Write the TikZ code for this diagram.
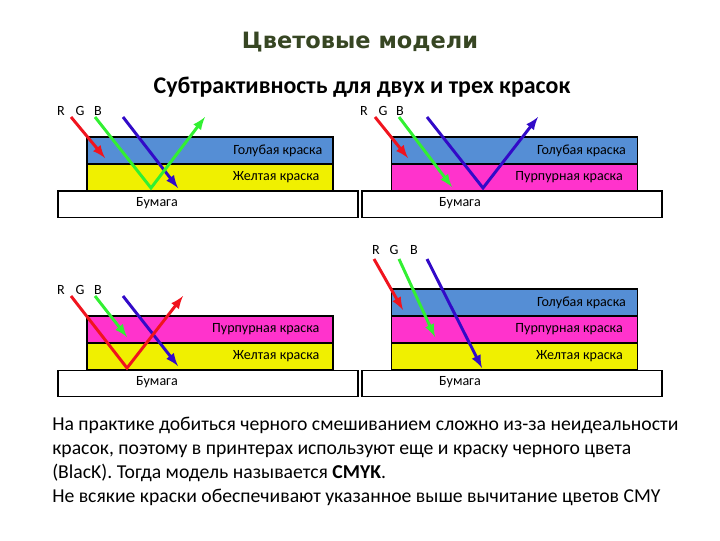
\documentclass[tikz,border=0pt]{standalone}
\usepackage{fontspec}
\setmainfont{Carlito}
\newfontfamily\titlefont{DejaVu Sans}
\usepackage{tikz}
\usetikzlibrary{positioning}
\definecolor{Layer-C}{RGB}{85,142,213}
\definecolor{Layer-M}{RGB}{255,51,204}
\definecolor{Layer-Y}{RGB}{240,240,0}
\definecolor{Ray-R}{RGB}{240,20,30}
\definecolor{Ray-G}{RGB}{50,240,50}
\definecolor{Ray-B}{RGB}{50,10,200}
\definecolor{Head}{RGB}{55,70,35}

\begin{document}
\begin{tikzpicture}[x=0.025cm, y=-0.025cm]
      \tikzset{ cyn/.style ={draw=black, fill=Layer-C, line width=1pt, minimum width=6.15cm, minimum height=0.675cm, inner sep=0pt} }
      \tikzset{ mag/.style ={draw=black, fill=Layer-M, line width=1pt, minimum width=6.15cm, minimum height=0.675cm, inner sep=0pt} }
      \tikzset{ yel/.style ={draw=black, fill=Layer-Y, line width=1pt, minimum width=6.15cm, minimum height=0.675cm, inner sep=0pt} }
      \tikzset{ pap/.style ={draw=black, fill=white,   line width=1pt, minimum width=7.50cm, minimum height=0.660cm, inner sep=0pt} }
      \tikzset{ lbl/.style ={text=black, inner sep=0pt, font=\fontsize{10}{12}\selectfont} }
      \tikzset{ rayR/.style={->,>=latex, line width=2.1pt, draw=Ray-R} }
      \tikzset{ rayG/.style={->,>=latex, line width=2.1pt, draw=Ray-G} }
      \tikzset{ rayB/.style={->,>=latex, line width=2.1pt, draw=Ray-B} }

      \useasboundingbox (0,0) rectangle (720,540);

      \node[text=Head, font=\titlefont\bfseries\fontsize{16}{19}\selectfont] (title) at (360,42) {Цветовые модели};
      \node[font=\bfseries\fontsize{17}{20}\selectfont] (subtitle) at (362,87) {Субтрактивность для двух и трех красок};

      % two layers: cyan + yellow
      \node[cyn] (p1_c) at (210,150.5) {};
      \node[yel] (p1_y) at (210,177.5) {};
      \node[pap] (p1_p) at (208,204.0) {};
      \node[lbl, anchor=east] at ([xshift=-0.28cm]p1_c.east) {Голубая краска};
      \node[lbl, anchor=east] at ([xshift=-0.35cm]p1_y.east) {Желтая краска};
      \node[lbl] at (157,203) {Бумага};
      \node[lbl] (p1_R) at ( 61,111) {R};
      \node[lbl] (p1_G) at ( 80,111) {G};
      \node[lbl] (p1_B) at ( 98,111) {B};

      \coordinate (p1_r0) at ( 71,117);
      \coordinate (p1_r1) at (105,158);
      \coordinate (p1_g0) at ( 95,117);
      \coordinate (p1_g1) at (151,188);
      \coordinate (p1_g2) at (205,117);
      \coordinate (p1_b0) at (123,117);
      \coordinate (p1_b1) at (178,188);

      \draw[rayR] (p1_r0) -- (p1_r1);
      \draw[rayB] (p1_b0) -- (p1_b1);
      \draw[rayG] (p1_g0) -- (p1_g1) -- (p1_g2);

      % two layers: cyan + magenta
      \node[cyn] (p2_c) at (514.5,150.5) {};
      \node[mag] (p2_m) at (514.5,177.5) {};
      \node[pap] (p2_p) at (512,204.0) {};
      \node[lbl, anchor=east] at ([xshift=-0.30cm]p2_c.east) {Голубая краска};
      \node[lbl, anchor=east] at ([xshift=-0.38cm]p2_m.east) {Пурпурная краска};
      \node[lbl] at (460,203) {Бумага};
      \node[lbl] (p2_R) at (364,111) {R};
      \node[lbl] (p2_G) at (383,111) {G};
      \node[lbl] (p2_B) at (400,111) {B};

      \coordinate (p2_r0) at (375,117);
      \coordinate (p2_r1) at (408,158);
      \coordinate (p2_g0) at (399,117);
      \coordinate (p2_g1) at (452,187);
      \coordinate (p2_b0) at (427,117);
      \coordinate (p2_b1) at (483,188);
      \coordinate (p2_b2) at (538,117);

      \draw[rayR] (p2_r0) -- (p2_r1);
      \draw[rayG] (p2_g0) -- (p2_g1);
      \draw[rayB] (p2_b0) -- (p2_b1) -- (p2_b2);

      % two layers: magenta + yellow
      \node[mag] (p3_m) at (210,329.5) {};
      \node[yel] (p3_y) at (210,356.5) {};
      \node[pap] (p3_p) at (208,383.5) {};
      \node[lbl, anchor=east] at ([xshift=-0.35cm]p3_m.east) {Пурпурная краска};
      \node[lbl, anchor=east] at ([xshift=-0.35cm]p3_y.east) {Желтая краска};
      \node[lbl] at (157,382) {Бумага};
      \node[lbl] (p3_R) at ( 61,290) {R};
      \node[lbl] (p3_G) at ( 80,290) {G};
      \node[lbl] (p3_B) at ( 98,290) {B};

      \coordinate (p3_r0) at ( 71,296);
      \coordinate (p3_r1) at (127,368);
      \coordinate (p3_r2) at (183,296);
      \coordinate (p3_g0) at ( 95,296);
      \coordinate (p3_g1) at (127,337);
      \coordinate (p3_b0) at (123,296);
      \coordinate (p3_b1) at (178,366);

      \draw[rayG] (p3_g0) -- (p3_g1);
      \draw[rayB] (p3_b0) -- (p3_b1);
      \draw[rayR] (p3_r0) -- (p3_r1) -- (p3_r2);

      % three layers: cyan + magenta + yellow
      \node[cyn] (p4_c) at (514.5,302.5) {};
      \node[mag] (p4_m) at (514.5,329.5) {};
      \node[yel] (p4_y) at (514.5,356.5) {};
      \node[pap] (p4_p) at (512,383.5) {};
      \node[lbl, anchor=east] at ([xshift=-0.30cm]p4_c.east) {Голубая краска};
      \node[lbl, anchor=east] at ([xshift=-0.38cm]p4_m.east) {Пурпурная краска};
      \node[lbl, anchor=east] at ([xshift=-0.38cm]p4_y.east) {Желтая краска};
      \node[lbl] at (460,382) {Бумага};
      \node[lbl] (p4_R) at (376,250) {R};
      \node[lbl] (p4_G) at (394,250) {G};
      \node[lbl] (p4_B) at (414,250) {B};

      \coordinate (p4_r0) at (374,259);
      \coordinate (p4_r1) at (403,310);
      \coordinate (p4_g0) at (399,259);
      \coordinate (p4_g1) at (435,337);
      \coordinate (p4_b0) at (427,259);
      \coordinate (p4_b1) at (482,368);

      \draw[rayR] (p4_r0) -- (p4_r1);
      \draw[rayG] (p4_g0) -- (p4_g1);
      \draw[rayB] (p4_b0) -- (p4_b1);

      \node[anchor=north west, align=left, inner sep=0pt, font=\fontsize{14}{17}\selectfont] (note) at (52,417)
        {На практике добиться черного смешиванием сложно из-за неидеальности\\
         красок, поэтому в принтерах используют еще и краску черного цвета\\
         (BlacK). Тогда модель называется \textbf{CMYK}.\\
         Не всякие краски обеспечивают указанное выше вычитание цветов CMY};
\end{tikzpicture}
\end{document}
